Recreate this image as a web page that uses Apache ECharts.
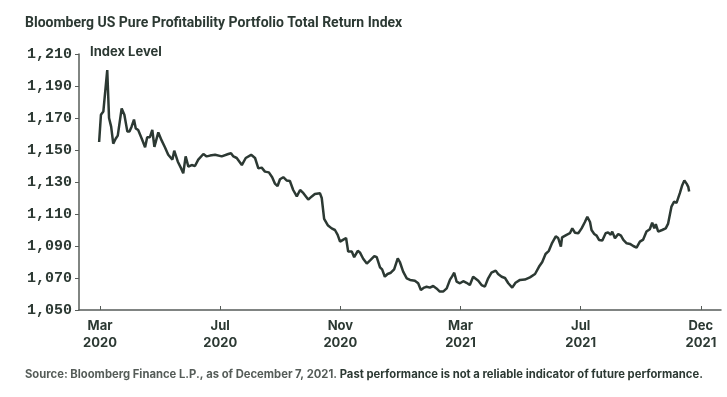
<!DOCTYPE html>
<html lang="en">
  <head>
    <meta charset="utf-8">
    <title>Bloomberg US Pure Profitability Portfolio Total Return Index</title>
    <style>
      html, body { margin: 0; padding: 0; background: #fff; }
      #chart { width: 727px; height: 397px; }
    </style>
  </head>
  <body>
    <div id="chart"></div>
    <script src="https://cdn.jsdelivr.net/npm/echarts@6/dist/echarts.min.js"></script>
    <script>
      // tick positions on the x axis (evenly spaced, as in the original)
      var tickPos = [0, 4, 8, 12, 16, 20];
      var tickLabels = ['Mar\n2020', 'Jul\n2020', 'Nov\n2020', 'Mar\n2021', 'Jul\n2021', 'Dec\n2021'];

      // x position of each reading, in the chart's tick units
      var xPos = [
        -0.03, 0.03, 0.11, 0.24, 0.30, 0.37, 0.44, 0.52, 0.59, 0.72, 0.81, 0.91, 0.98, 1.05, 1.13, 1.19,
        1.27, 1.39, 1.50, 1.57, 1.66, 1.74, 1.81, 1.94, 2.05, 2.16, 2.27, 2.41, 2.47, 2.59, 2.70, 2.77,
        2.85, 2.94, 3.05, 3.16, 3.27, 3.44, 3.55, 3.66, 3.83, 4.05, 4.27, 4.36, 4.44, 4.55, 4.72, 4.85,
        5.03, 5.16, 5.27, 5.38, 5.49, 5.62, 5.73, 5.82, 5.91, 5.99, 6.10, 6.21, 6.32, 6.43, 6.55, 6.66,
        6.77, 6.93, 7.05, 7.15, 7.32, 7.38, 7.46, 7.58, 7.71, 7.82, 7.91, 7.99, 8.10, 8.19, 8.26, 8.38,
        8.46, 8.58, 8.65, 8.76, 8.88, 8.99, 9.13, 9.21, 9.32, 9.39, 9.48, 9.57, 9.68, 9.79, 9.91, 9.98,
        10.09, 10.21, 10.32, 10.48, 10.59, 10.68, 10.79, 10.87, 10.98, 11.09, 11.20, 11.31, 11.42, 11.54, 11.65, 11.72,
        11.79, 11.87, 11.98, 12.09, 12.20, 12.31, 12.42, 12.48, 12.59, 12.70, 12.81, 12.92, 13.03, 13.17, 13.25, 13.37,
        13.48, 13.59, 13.72, 13.83, 13.98, 14.14, 14.31, 14.48, 14.61, 14.72, 14.83, 14.94, 15.05, 15.17, 15.25, 15.34,
        15.38, 15.53, 15.64, 15.72, 15.81, 15.92, 16.03, 16.14, 16.22, 16.31, 16.36, 16.45, 16.53, 16.61, 16.72, 16.83,
        16.91, 17.00, 17.05, 17.14, 17.25, 17.34, 17.42, 17.53, 17.64, 17.75, 17.86, 17.97, 18.08, 18.19, 18.30, 18.38,
        18.45, 18.50, 18.58, 18.71, 18.83, 18.91, 19.02, 19.11, 19.19, 19.30, 19.38, 19.45, 19.53, 19.58, 19.61
      ];

      // index level readings
      var indexLevel = [
        1155, 1172, 1174, 1200, 1170, 1164.6, 1154, 1157, 1159, 1176, 1172, 1161.5, 1161.5, 1164.6, 1169, 1163.5,
        1162.5, 1157, 1151.7, 1158, 1158, 1162.5, 1152, 1161, 1156, 1151.7, 1147, 1144, 1149.6, 1142.7, 1138.5, 1135.4,
        1146, 1139.6, 1140.6, 1140, 1144, 1147.5, 1146, 1146.5, 1147, 1146, 1147.5, 1148, 1146, 1145, 1140.6, 1145,
        1147, 1145, 1138.5, 1139, 1136.5, 1136, 1133, 1129, 1127.5, 1131.7, 1133, 1131, 1130.6, 1125, 1121, 1125,
        1123, 1119, 1121, 1122.5, 1123, 1120, 1107, 1103, 1101, 1100, 1097, 1092.7, 1094, 1095, 1086.5, 1086.5,
        1083, 1087, 1086, 1082, 1079, 1081, 1083.7, 1083, 1076.7, 1075.4, 1070.8, 1072.5, 1073.3, 1075.4, 1082.3, 1080,
        1074, 1069.8, 1068.8, 1068.3, 1066.7, 1062.5, 1064, 1064.5, 1064, 1065, 1063.5, 1061.5, 1061.5, 1063.5, 1069, 1071,
        1073.3, 1067.7, 1066.7, 1068, 1067, 1065.6, 1070.8, 1072, 1068.3, 1065.6, 1064.6, 1069.8, 1073.3, 1074.6, 1072.5, 1070.8,
        1070, 1066.7, 1064, 1067, 1068.8, 1069, 1070.4, 1072.5, 1077, 1080, 1085, 1087, 1092, 1096, 1095, 1089.6,
        1095.4, 1097, 1098, 1101, 1098.3, 1098, 1101, 1105, 1108.3, 1105, 1100, 1097.5, 1096.5, 1093.8, 1093.5, 1098,
        1098.5, 1097, 1099, 1094.8, 1097.5, 1096.5, 1093.8, 1091.7, 1091.3, 1090, 1089, 1092.7, 1094, 1099, 1100.5, 1104.6,
        1101, 1103.6, 1099, 1100, 1101, 1104, 1114.6, 1117.7, 1117, 1123, 1128, 1131, 1128.8, 1127, 1124
      ];

      var ink = '#2c3933';
      var axisGrey = '#575c59';
      var myChart = echarts.init(document.getElementById('chart'));

      var points = [];
      for (var i = 0; i < xPos.length; i++) {
          points.push([xPos[i], indexLevel[i]]);
      }

      myChart.setOption({
          animation: false,
          backgroundColor: '#ffffff',
          title: [{
              text: 'Bloomberg US Pure Profitability Portfolio Total Return Index',
              left: 25,
              top: 16,
              padding: 0,
              textStyle: { fontFamily: 'Roboto', fontWeight: 'bold', fontSize: 14, color: ink }
          }, {
              text: '{n|Source: Bloomberg Finance L.P., as of December 7, 2021. }{b|Past performance is not a reliable indicator of future performance.}',
              left: 25,
              top: 369,
              padding: 0,
              textStyle: {
                  rich: {
                      n: { fontFamily: 'Inter', fontSize: 11.25, color: '#555c58' },
                      b: { fontFamily: 'Inter', fontWeight: 'bold', fontSize: 11.25, color: '#2c3933' }
                  }
              }
          }],
          graphic: [{
              type: 'text',
              left: 90,
              top: 46,
              style: { text: 'Index Level', fontFamily: 'Inter', fontWeight: 'bold', fontSize: 13, fill: ink }
          }],
          grid: { left: 79, right: 6, top: 54, bottom: 87, containLabel: false },
          xAxis: {
              type: 'value',
              min: -0.7,
              max: 20.67,
              splitLine: { show: false },
              axisLine: { onZero: false, lineStyle: { color: axisGrey, width: 1.5 } },
              axisTick: { show: true, inside: true, length: 4, customValues: tickPos, lineStyle: { color: axisGrey } },
              axisLabel: {
                  customValues: tickPos,
                  margin: 8,
                  lineHeight: 17,
                  fontFamily: 'Inter', fontWeight: 'bold', fontSize: 13, color: ink,
                  formatter: function (v) {
                      var k = tickPos.indexOf(Math.round(v));
                      return k >= 0 ? tickLabels[k] : '';
                  }
              }
          },
          yAxis: {
              type: 'value',
              position: 'left',
              min: 1050,
              max: 1210,
              interval: 20,
              splitLine: { show: false },
              axisLine: { show: true, onZero: false, lineStyle: { color: axisGrey, width: 1.5 } },
              axisTick: { show: true, length: 4, lineStyle: { color: axisGrey } },
              axisLabel: {
                  margin: 7,
                  fontFamily: 'Liberation Mono', fontWeight: 'bold', fontSize: 15, color: ink,
                  formatter: function (v) { return v.toLocaleString('en-US'); }
              }
          },
          series: [{
              type: 'line',
              data: points,
              showSymbol: false,
              smooth: false,
              lineStyle: { color: ink, width: 2.5 }
          }]
      });
    </script>
  </body>
</html>
